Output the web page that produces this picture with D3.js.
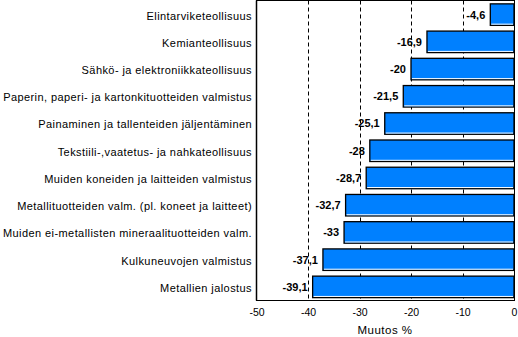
<!DOCTYPE html>
<html><head><meta charset="utf-8">
<script src="https://cdn.jsdelivr.net/npm/d3@7"></script>
<style>body{margin:0;background:#fff}svg{display:block}text{font-family:Arial,"Liberation Sans",sans-serif}</style>
</head><body><svg id="c" width="518" height="337"></svg>
<script>
const categories = ["Elintarviketeollisuus","Kemianteollisuus","Sähkö- ja elektroniikkateollisuus","Paperin, paperi- ja kartonkituotteiden valmistus","Painaminen ja tallenteiden jäljentäminen","Tekstiili-,vaatetus- ja nahkateollisuus","Muiden koneiden ja laitteiden valmistus","Metallituotteiden valm. (pl. koneet ja laitteet)","Muiden ei-metallisten mineraalituotteiden valm.","Kulkuneuvojen valmistus","Metallien jalostus"];
const values = [-4.6,-16.9,-20,-21.5,-25.1,-28,-28.7,-32.7,-33,-37.1,-39.1];
const valueLabels = ["-4,6","-16,9","-20","-21,5","-25,1","-28","-28,7","-32,7","-33","-37,1","-39,1"];
const ticks = [-50,-40,-30,-20,-10,0];
const axisTitle = "Muutos %";

const svg = d3.select("#c");
const L=256.5, R=514.5, T=0.5, B=300.5;
const x = d3.scaleLinear().domain([-50,0]).range([L,R-0.5]);
const y = d3.scaleBand().domain(categories).range([T+0.5,B]).paddingInner(0.21).paddingOuter(0.105);

// gridlines
svg.append("g").selectAll("line").data(ticks.filter(t=>t>-50&&t<0)).join("line")
  .attr("x1",d=>Math.round(x(d))+0.5).attr("x2",d=>Math.round(x(d))+0.5)
  .attr("y1",T).attr("y2",B).attr("stroke","#000").attr("stroke-dasharray","4,3");

// bars
const bars = svg.append("g");
bars.selectAll("rect").data(values).join("rect")
  .attr("x",d=>x(d)).attr("width",d=>x(0)-x(d))
  .attr("y",(d,i)=>y(categories[i])).attr("height",y.bandwidth())
  .attr("fill","#0080ff").attr("stroke","#000").attr("stroke-width",1.3);
bars.selectAll("line").data(values).join("line")
  .attr("x1",d=>x(d)+1).attr("x2",x(0)-1)
  .attr("y1",(d,i)=>y(categories[i])+y.bandwidth()-1.2).attr("y2",(d,i)=>y(categories[i])+y.bandwidth()-1.2)
  .attr("stroke","#fff").attr("stroke-width",1);

// value labels
svg.append("g").selectAll("text").data(values).join("text")
  .attr("x",d=>x(d)-5).attr("y",(d,i)=>y(categories[i])+y.bandwidth()/2)
  .attr("dy","0.36em").attr("text-anchor","end")
  .attr("font-size",11).attr("font-weight","bold").attr("fill","#000")
  .text((d,i)=>valueLabels[i]);

// frame
svg.append("rect").attr("x",L).attr("y",T).attr("width",R-L).attr("height",B-T)
  .attr("fill","none").attr("stroke","#000").attr("stroke-width",1);
svg.append("line").attr("x1",L).attr("x2",L).attr("y1",T).attr("y2",B).attr("stroke","#000").attr("stroke-width",1.5);

// category labels
svg.append("g").selectAll("text").data(categories).join("text")
  .attr("x",252).attr("y",d=>y(d)+y.bandwidth()/2+1)
  .attr("dy","0.36em").attr("text-anchor","end").attr("font-size",11).attr("letter-spacing",0.42).attr("fill","#000")
  .text(d=>d);

// x axis
const ax = svg.append("g").attr("transform",`translate(0,${B})`)
  .call(d3.axisBottom(x).tickValues(ticks).tickSize(0).tickPadding(8).tickFormat(d=>d));
ax.select(".domain").remove();
ax.selectAll("text").attr("font-size",10.5).attr("font-family","Arial, 'Liberation Sans', sans-serif").attr("fill","#000");

svg.append("text").attr("x",385).attr("y",334).attr("text-anchor","middle").attr("font-size",11.5).attr("letter-spacing",0.5).attr("fill","#000").text(axisTitle);
</script></body></html>
